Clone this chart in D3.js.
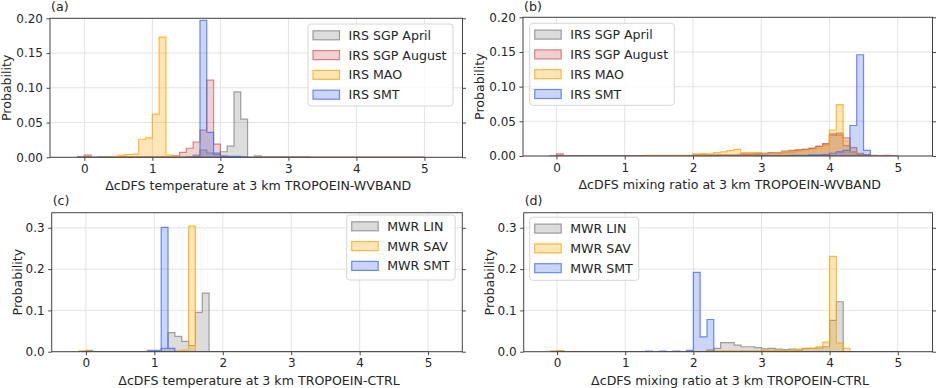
<!DOCTYPE html>
<html>
<head>
<meta charset="utf-8">
<script src="https://cdn.jsdelivr.net/npm/d3@7"></script>
<style>
  body { margin: 0; background: #fff; }
  text { font-family: "DejaVu Sans", sans-serif; fill: #262626; }
</style>
</head>
<body>
<div id="chart"></div>
<script>
// bins: 0.1 wide, first bin starts at -0.1 (51 bins up to 5.0)
const binStart = -0.1;
const binWidth = 0.1;

const xTicks = [0, 1, 2, 3, 4, 5];
const yTicksTop = [0, 0.05, 0.10, 0.15, 0.20];
const yTicksBottom = [0, 0.1, 0.2, 0.3];

// (a) temperature, TROPOEIN-WVBAND
const aSgpApril = [
  0.001, 0.001, 0, 0, 0, 0, 0, 0, 0, 0,
  0, 0, 0, 0, 0, 0, 0.001, 0.003, 0.0105, 0.006,
  0.004, 0.008, 0.016, 0.094, 0.055, 0, 0.002, 0.0005, 0.0005, 0.0005,
  0.0005, 0.0005, 0.0005, 0.0005, 0, 0, 0, 0, 0, 0,
  0, 0, 0, 0, 0, 0, 0, 0, 0, 0, 0];
const aSgpAugust = [
  0, 0.003, 0, 0.0007, 0.0007, 0.0007, 0.0007, 0.0007, 0.0007, 0.0007,
  0.0007, 0.0007, 0.0007, 0.0007, 0.002, 0.007, 0.013, 0.022, 0.039, 0.111,
  0.019, 0.002, 0.001, 0.0005, 0, 0, 0, 0, 0, 0,
  0, 0, 0, 0, 0, 0, 0, 0, 0, 0,
  0, 0, 0, 0, 0, 0, 0, 0, 0, 0, 0];
const aMao = [
  0, 0, 0, 0, 0, 0.0015, 0.003, 0.004, 0.0045, 0.026,
  0.028, 0.062, 0.173, 0.003, 0.001, 0, 0, 0, 0, 0,
  0, 0, 0, 0, 0, 0, 0, 0, 0, 0,
  0, 0, 0, 0, 0, 0, 0, 0, 0, 0,
  0, 0, 0, 0, 0, 0, 0, 0, 0, 0, 0];
const aSmt = [
  0, 0, 0, 0, 0, 0, 0, 0, 0, 0,
  0, 0, 0, 0, 0, 0, 0, 0.001, 0.197, 0.036,
  0.006, 0.0015, 0.0015, 0.0015, 0.0007, 0, 0, 0, 0, 0,
  0, 0, 0, 0, 0, 0, 0, 0, 0, 0,
  0, 0, 0, 0, 0, 0, 0, 0, 0, 0, 0];

// (b) mixing ratio, TROPOEIN-WVBAND
const bSgpApril = [
  0, 0.001, 0, 0, 0, 0, 0, 0, 0, 0,
  0, 0, 0, 0, 0.0005, 0.0005, 0.0005, 0.0005, 0.0005, 0.0005,
  0.0005, 0.001, 0.001, 0.001, 0.001, 0.001, 0.001, 0.001, 0.002, 0.002,
  0.003, 0.003, 0.004, 0.004, 0.005, 0.006, 0.008, 0.009, 0.011, 0.014,
  0.018, 0.032, 0.030, 0.015, 0.006, 0.002, 0.001, 0, 0, 0, 0];
const bSgpAugust = [
  0, 0.003, 0.0007, 0.0007, 0.0007, 0.0007, 0.0007, 0.0007, 0.0007, 0.0007,
  0.0007, 0.0007, 0.0007, 0.0007, 0.0007, 0.0007, 0.0007, 0.0007, 0.0007, 0.0007,
  0.0007, 0.0015, 0.0015, 0.0015, 0.0015, 0.0015, 0.0015, 0.0015, 0.003, 0.003,
  0.003, 0.004, 0.005, 0.005, 0.007, 0.008, 0.009, 0.010, 0.011, 0.014,
  0.017, 0.030, 0.033, 0.026, 0.012, 0.004, 0.002, 0.001, 0.0005, 0.001, 0];
const bMao = [
  0, 0, 0, 0, 0, 0, 0, 0, 0, 0,
  0, 0, 0, 0, 0.001, 0.001, 0.001, 0.001, 0.001, 0.001,
  0.001, 0.003, 0.0035, 0.003, 0.005, 0.006, 0.0077, 0.0095, 0.005, 0.005,
  0.005, 0.004, 0.004, 0.005, 0.005, 0.006, 0.007, 0.008, 0.009, 0.011,
  0.015, 0.0375, 0.074, 0.022, 0.006, 0.001, 0, 0, 0, 0, 0];
const bSmt = [
  0, 0, 0, 0, 0, 0, 0, 0, 0, 0,
  0, 0, 0, 0, 0, 0, 0, 0, 0, 0,
  0, 0, 0, 0, 0, 0, 0, 0, 0, 0,
  0.0005, 0.0005, 0.0005, 0.0005, 0.0005, 0.001, 0.001, 0.001, 0.0015, 0.0015,
  0.002, 0.004, 0.006, 0.008, 0.044, 0.146, 0.008, 0, 0, 0, 0];

// (c) temperature, TROPOEIN-CTRL
const cLin = [
  0, 0.003, 0, 0, 0, 0, 0, 0, 0, 0,
  0, 0, 0.008, 0.046, 0.037, 0.025, 0.015, 0.095, 0.142, 0,
  0, 0, 0, 0, 0, 0, 0, 0, 0, 0,
  0, 0, 0, 0, 0, 0, 0, 0, 0, 0,
  0, 0, 0, 0, 0, 0, 0, 0, 0, 0, 0];
const cSav = [
  0.002, 0.002, 0, 0, 0, 0, 0, 0, 0, 0,
  0, 0, 0, 0, 0.002, 0.004, 0.304, 0, 0, 0,
  0, 0, 0, 0, 0, 0, 0, 0, 0, 0,
  0, 0, 0, 0, 0, 0, 0, 0, 0, 0,
  0, 0, 0, 0, 0, 0, 0, 0, 0, 0, 0];
const cSmt = [
  0, 0, 0, 0, 0, 0, 0, 0, 0, 0,
  0.003, 0.003, 0.301, 0.008, 0, 0, 0, 0, 0, 0,
  0, 0, 0, 0, 0, 0, 0, 0, 0, 0,
  0, 0, 0, 0, 0, 0, 0, 0, 0, 0,
  0, 0, 0, 0, 0, 0, 0, 0, 0, 0, 0];

// (d) mixing ratio, TROPOEIN-CTRL
const dLin = [
  0, 0.002, 0, 0, 0, 0, 0, 0, 0, 0,
  0, 0, 0, 0, 0, 0, 0, 0, 0, 0,
  0, 0, 0, 0.004, 0.008, 0.022, 0.022, 0.016, 0.012, 0.012,
  0.010, 0.007, 0.008, 0.006, 0.005, 0.006, 0.004, 0.008, 0.008, 0.009,
  0.012, 0.076, 0.121, 0, 0, 0, 0, 0, 0, 0, 0];
const dSav = [
  0.002, 0.002, 0, 0, 0, 0, 0, 0, 0, 0,
  0, 0, 0, 0, 0, 0, 0, 0, 0, 0,
  0, 0, 0, 0.003, 0.002, 0.002, 0.002, 0.002, 0.002, 0.002,
  0.002, 0.003, 0.003, 0.003, 0.003, 0.003, 0.006, 0.007, 0.008, 0.012,
  0.023, 0.231, 0.021, 0.008, 0, 0, 0, 0, 0, 0, 0];
const dSmt = [
  0, 0, 0, 0, 0, 0, 0, 0, 0, 0,
  0, 0, 0, 0, 0.0015, 0, 0.0015, 0, 0.0015, 0,
  0.003, 0.192, 0.036, 0.078, 0, 0, 0, 0, 0, 0,
  0, 0, 0, 0, 0, 0, 0, 0, 0, 0,
  0, 0, 0, 0, 0, 0, 0, 0, 0, 0, 0];

const colors = {
  gray: "#808080",
  red: "#cd5c5c",
  orange: "#ffa500",
  blue: "#4169e1"
};

const labelSize = 12.6;
const tickSize = 12;

const panels = [
  {
    tag: "(a)", box: {left: 50, right: 462.5, top: 18.3, bottom: 157.3},
    xDomain: [-0.505, 5.56], yDomain: [0, 0.2], yTicks: yTicksTop, yFormat: ".2f",
    xLabel: "ΔcDFS temperature at 3 km TROPOEIN-WVBAND",
    series: [
      {name: "IRS SGP April", values: aSgpApril, color: colors.gray},
      {name: "IRS SGP August", values: aSgpAugust, color: colors.red},
      {name: "IRS MAO", values: aMao, color: colors.orange},
      {name: "IRS SMT", values: aSmt, color: colors.blue}
    ],
    legend: {x: 308, y: 24, w: 145, h: 82}
  },
  {
    tag: "(b)", box: {left: 523, right: 932.5, top: 17.3, bottom: 156},
    xDomain: [-0.49, 5.51], yDomain: [0, 0.2], yTicks: yTicksTop, yFormat: ".2f",
    xLabel: "ΔcDFS mixing ratio at 3 km TROPOEIN-WVBAND",
    series: [
      {name: "IRS SGP April", values: bSgpApril, color: colors.gray},
      {name: "IRS SGP August", values: bSgpAugust, color: colors.red},
      {name: "IRS MAO", values: bMao, color: colors.orange},
      {name: "IRS SMT", values: bSmt, color: colors.blue}
    ],
    legend: {x: 529.7, y: 23.3, w: 144.6, h: 82}
  },
  {
    tag: "(c)", box: {left: 51.7, right: 462.3, top: 212.7, bottom: 351.7},
    xDomain: [-0.5, 5.5], yDomain: [0, 0.3366], yTicks: yTicksBottom, yFormat: ".1f",
    xLabel: "ΔcDFS temperature at 3 km TROPOEIN-CTRL",
    series: [
      {name: "MWR LIN", values: cLin, color: colors.gray},
      {name: "MWR SAV", values: cSav, color: colors.orange},
      {name: "MWR SMT", values: cSmt, color: colors.blue}
    ],
    legend: {x: 346.7, y: 215, w: 108.5, h: 65}
  },
  {
    tag: "(d)", box: {left: 523.7, right: 932.5, top: 212.7, bottom: 351.7},
    xDomain: [-0.49, 5.51], yDomain: [0, 0.3366], yTicks: yTicksBottom, yFormat: ".1f",
    xLabel: "ΔcDFS mixing ratio at 3 km TROPOEIN-CTRL",
    series: [
      {name: "MWR LIN", values: dLin, color: colors.gray},
      {name: "MWR SAV", values: dSav, color: colors.orange},
      {name: "MWR SMT", values: dSmt, color: colors.blue}
    ],
    legend: {x: 529.7, y: 217.3, w: 109, h: 63}
  }
];

let svg = d3.select("#chart")
  .append("svg")
  .attr("width", 937)
  .attr("height", 388);

panels.forEach((p, pi) => {
  let b = p.box;
  let x = d3.scaleLinear().domain(p.xDomain).range([b.left, b.right]);
  let y = d3.scaleLinear().domain(p.yDomain).range([b.bottom, b.top]);
  let g = svg.append("g");

  // clip
  let clipId = "clip" + pi;
  svg.append("clipPath").attr("id", clipId)
    .append("rect")
    .attr("x", b.left).attr("y", b.top)
    .attr("width", b.right - b.left).attr("height", b.bottom - b.top);

  // grid
  g.append("g").selectAll("line").data(xTicks).enter().append("line")
    .attr("x1", d => x(d)).attr("x2", d => x(d))
    .attr("y1", b.top).attr("y2", b.bottom)
    .attr("stroke", "#e3e3e3").attr("stroke-width", 1);
  g.append("g").selectAll("line").data(p.yTicks).enter().append("line")
    .attr("x1", b.left).attr("x2", b.right)
    .attr("y1", d => y(d)).attr("y2", d => y(d))
    .attr("stroke", "#e3e3e3").attr("stroke-width", 1);

  // step-filled histograms
  let line = d3.line().x(d => x(d[0])).y(d => y(d[1]));
  let histGroup = g.append("g").attr("clip-path", `url(#${clipId})`);
  p.series.forEach(s => {
    let pts = [[binStart, 0]];
    s.values.forEach((v, i) => {
      let x0 = binStart + i * binWidth;
      pts.push([x0, v], [x0 + binWidth, v]);
    });
    pts.push([binStart + s.values.length * binWidth, 0]);
    histGroup.append("path")
      .attr("d", line(pts) + "Z")
      .attr("fill", s.color).attr("fill-opacity", 0.28)
      .attr("stroke", s.color).attr("stroke-opacity", 0.75)
      .attr("stroke-width", 1.2)
      .attr("stroke-linejoin", "miter");
  });

  // axes
  let xAxis = d3.axisBottom(x).tickValues(xTicks).tickSize(3.5).tickPadding(3.5).tickFormat(d3.format("d"));
  let yAxis = d3.axisLeft(y).tickValues(p.yTicks).tickSize(3.5).tickPadding(3.5).tickFormat(d3.format(p.yFormat));
  let yAxisR = d3.axisRight(y).tickValues(p.yTicks).tickSize(3.5).tickFormat("");
  let xa = g.append("g").attr("transform", `translate(0,${b.bottom})`).call(xAxis);
  let ya = g.append("g").attr("transform", `translate(${b.left},0)`).call(yAxis);
  let yr = g.append("g").attr("transform", `translate(${b.right},0)`).call(yAxisR);
  [xa, ya, yr].forEach(a => {
    a.select(".domain").remove();
    a.selectAll("line").attr("stroke", "#444");
    a.selectAll("text").attr("font-size", tickSize).attr("fill", "#262626")
      .style("font-family", "DejaVu Sans, sans-serif");
  });

  // frame
  g.append("rect")
    .attr("x", b.left).attr("y", b.top)
    .attr("width", b.right - b.left).attr("height", b.bottom - b.top)
    .attr("fill", "none").attr("stroke", "#444").attr("stroke-width", 1);

  // labels
  g.append("text")
    .attr("x", (b.left + b.right) / 2 + 2).attr("y", b.bottom + 33)
    .attr("text-anchor", "middle").attr("font-size", labelSize)
    .text(p.xLabel);
  let yLabelX = b.left - (p.yFormat === ".2f" ? 39 : 30);
  g.append("text")
    .attr("transform", `translate(${yLabelX},${(b.top + b.bottom) / 2}) rotate(-90)`)
    .attr("text-anchor", "middle").attr("font-size", labelSize)
    .text("Probability");
  g.append("text")
    .attr("x", b.left + 1).attr("y", Math.max(b.top - 7.5, 11))
    .attr("font-size", labelSize)
    .text(p.tag);

  // legend
  let L = p.legend;
  let lg = g.append("g");
  lg.append("rect")
    .attr("x", L.x).attr("y", L.y).attr("width", L.w).attr("height", L.h)
    .attr("rx", 3).attr("fill", "#fff").attr("fill-opacity", 0.8)
    .attr("stroke", "#d6d6d6").attr("stroke-width", 1);
  p.series.forEach((s, i) => {
    let cy = L.y + 11.3 + i * 19.8;
    lg.append("rect")
      .attr("x", L.x + 5).attr("y", cy - 4.5).attr("width", 26.5).attr("height", 9)
      .attr("fill", s.color).attr("fill-opacity", 0.28)
      .attr("stroke", s.color).attr("stroke-opacity", 0.75).attr("stroke-width", 1.2);
    lg.append("text")
      .attr("x", L.x + 40.5).attr("y", cy + 4.5)
      .attr("font-size", labelSize)
      .text(s.name);
  });
});
</script>
</body>
</html>
